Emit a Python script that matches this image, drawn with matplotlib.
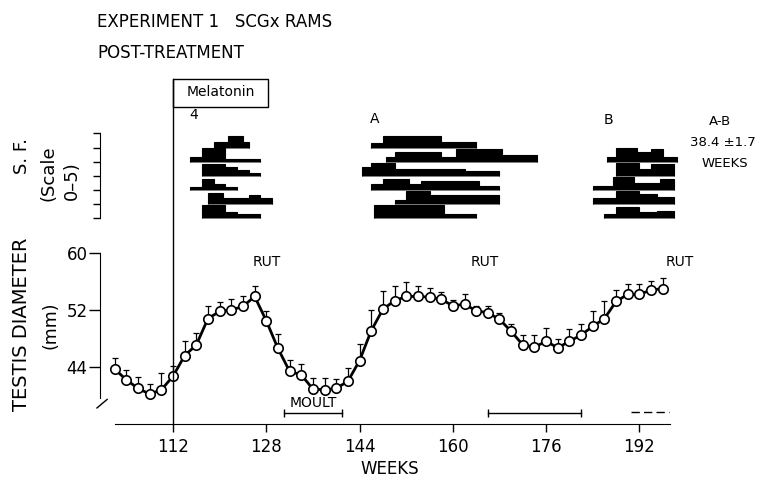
import numpy as np
import matplotlib
matplotlib.use('Agg')
import matplotlib.pyplot as plt
from matplotlib.patches import Rectangle
from matplotlib.lines import Line2D
from matplotlib.transforms import blended_transform_factory

plt.rcParams['font.family'] = ['DejaVu Sans']

# testis diameter (mm), mean + upper SE, every 2 weeks
weeks = np.arange(102, 197, 2)
testis = [43.7, 42.2, 41.0, 40.2, 40.8, 42.7, 45.6, 47.1, 50.8, 51.8, 52.0, 52.5, 53.9,
          50.5, 46.6, 43.4, 42.9, 40.9, 40.8, 41.0, 42.0, 44.9, 49.1, 52.1, 53.3, 53.9,
          53.9, 53.8, 53.5, 52.6, 52.8, 51.9, 51.6, 50.7, 49.0, 47.1, 46.8, 47.6, 46.7,
          47.6, 48.5, 49.7, 50.8, 53.2, 54.2, 54.2, 54.8, 55.0]
testis_se = [1.6, 1.4, 1.6, 1.4, 2.4, 1.5, 2.0, 1.7, 1.7, 1.35, 1.6, 1.5, 1.5,
             1.4, 2.0, 1.6, 1.5, 1.5, 1.7, 1.3, 1.9, 2.3, 2.9, 2.5, 2.1, 2.0,
             1.5, 1.35, 1.0, 0.85, 1.4, 0.7, 0.95, 0.85, 1.1, 1.4, 1.7, 1.9, 1.2,
             1.7, 1.6, 2.2, 2.5, 1.6, 1.45, 1.4, 1.25, 1.5]

# sexual flush profiles (score 0-5), one row per ram: week edges + scores
sf4_rows = [0, 1, 2, 3, 4, 5]
sf4_edges = [[119, 121.5, 124, 125],
             [115, 117, 121, 127],
             [117, 121, 123, 125, 127],
             [115, 117, 119, 121, 123],
             [118, 120.5, 125, 127, 129],
             [117, 121, 123, 127]]
sf4_scores = [[2, 4, 2],
              [1.5, 5, 1],
              [4, 3, 2, 1],
              [1, 4, 2, 1],
              [4, 2, 3, 2],
              [4.5, 2, 1.5]]

sfA_rows = [0, 1, 2, 3, 4, 5]
sfA_edges = [[146, 148, 158, 164],
             [148.5, 150, 158, 160.5, 168.5, 174.5],
             [144.5, 146, 150, 162, 168],
             [146, 148, 152.5, 154.5, 164.5, 168],
             [150, 152, 156, 168],
             [146.5, 158.5, 164]]
sfA_scores = [[1.5, 4, 2],
              [1.5, 3.5, 1.5, 4.5, 2.5],
              [3, 4.5, 2.5, 1.5],
              [2, 4, 2, 3, 1.5],
              [1.5, 4.5, 3],
              [4.5, 1.5]]

sfB_rows = [1, 2, 3, 4, 5]
sfB_edges = [[186.5, 188, 191.5, 194, 196, 198.5],
             [188, 192, 194, 198],
             [184, 187.5, 191, 195.5, 198],
             [184, 188, 192, 195, 198],
             [186, 188, 192, 195, 198]]
sfB_scores = [[1.5, 5, 3.5, 4.5, 1.5],
              [4.5, 2.5, 4],
              [1.5, 4.5, 2.5, 4],
              [2, 4.5, 3.5, 2.5],
              [1.5, 4, 2, 2.5]]

moult_periods = [(131, 141), (166, 182)]
moult_partial = (190.5, 197)
rut_weeks = [128, 165.5, 199]
melatonin_start = 112
melatonin_end = 128.3
ROW_GAP = 5.0

fig = plt.figure(figsize=(7.6, 4.8), dpi=100)
ax = fig.add_axes([0.13158, 0.11667, 0.76316, 0.38594])
ax_sf = fig.add_axes([0.13158, 0.54, 0.76316, 0.19375])

# --- testis diameter panel
ax.errorbar(weeks, testis, yerr=[np.zeros(len(testis_se)), testis_se], fmt='none',
            ecolor='black', elinewidth=0.9, capsize=2.5, capthick=0.9, zorder=1)
ax.plot(weeks, testis, '-', color='black', lw=2.0, marker='o', ms=6.8,
        mfc='white', mec='black', mew=1.2, zorder=3)

ax.set_xlim(99.48, 198.96)
ax.set_ylim(36, 62)
ax.set_xticks([112, 128, 144, 160, 176, 192])
ax.set_yticks([44, 52, 60])
for s in ['top', 'right']:
    ax.spines[s].set_visible(False)
ax.spines['bottom'].set_bounds(102, 197.3)
ax.spines['left'].set_bounds(39.6, 60)
ax.tick_params(axis='x', direction='out', length=6, width=1, labelsize=12, pad=4)
ax.tick_params(axis='y', direction='out', length=8, width=1, labelsize=12, pad=1)
ax.set_xlabel('WEEKS', fontsize=12, labelpad=3)
# axis break mark
ax.plot([100.7, 98.96], [39.45, 38.25], color='black', lw=1, clip_on=False)

for w in rut_weeks:
    ax.text(w, 58.7, 'RUT', ha='center', va='center', fontsize=10)

for a, b in moult_periods:
    ax.plot([a, b], [37.55, 37.55], color='black', lw=1)
    ax.plot([a, b], [37.55, 37.55], ls='none', marker='|', ms=6, mew=1, color='black')
ax.plot(moult_partial, [37.7, 37.7], color='black', lw=1, ls=(0, (6, 3)))
ax.text(np.mean(moult_periods[0]), 38.95, 'MOULT', ha='center', va='center', fontsize=10)

# --- sexual flush panel
ax_sf.set_xlim(ax.get_xlim())
ax_sf.set_ylim(-1, 32)
for rows, edges, scores in [(sf4_rows, sf4_edges, sf4_scores),
                            (sfA_rows, sfA_edges, sfA_scores),
                            (sfB_rows, sfB_edges, sfB_scores)]:
    for r, e, s in zip(rows, edges, scores):
        base = (5 - r) * ROW_GAP
        ax_sf.stairs(base + np.array(s), e, baseline=base, fill=True,
                     facecolor='black', edgecolor='black', lw=0.8)
for s in ['top', 'right', 'bottom']:
    ax_sf.spines[s].set_visible(False)
ax_sf.spines['left'].set_bounds(0, 6 * ROW_GAP)
ax_sf.set_xticks([])
ax_sf.set_yticks(np.arange(7) * ROW_GAP)
ax_sf.set_yticklabels([])
ax_sf.tick_params(axis='y', direction='out', length=5, width=1)

# --- melatonin box and line
trans = blended_transform_factory(ax.transData, fig.transFigure)
fig.add_artist(Line2D([melatonin_start, melatonin_start], [0.11667, 0.8354],
                      transform=trans, color='black', lw=1))
fig.add_artist(Rectangle((melatonin_start, 0.7777), melatonin_end - melatonin_start, 0.0577,
                         transform=trans, fill=False, lw=1, ec='black'))
fig.text((melatonin_start + melatonin_end) / 2, 0.8083, 'Melatonin', transform=trans,
         ha='center', va='center', fontsize=10)
fig.text(115.5, 0.7604, '4', transform=trans, ha='center', va='center', fontsize=10)
fig.text(146.5, 0.752, 'A', transform=trans, ha='center', va='center', fontsize=10)
fig.text(186.6, 0.75, 'B', transform=trans, ha='center', va='center', fontsize=10)

fig.text(0.947, 0.746, 'A-B', ha='center', va='center', fontsize=9.5)
fig.text(0.951, 0.704, '38.4 \u00b11.7', ha='center', va='center', fontsize=9.5)
fig.text(0.954, 0.660, 'WEEKS', ha='center', va='center', fontsize=9.5)

# titles and axis labels
fig.text(0.1276, 0.954, 'EXPERIMENT 1   SCGx RAMS', ha='left', va='center', fontsize=12)
fig.text(0.1276, 0.8896, 'POST-TREATMENT', ha='left', va='center', fontsize=12)
fig.text(0.0289, 0.675, 'S. F.', rotation=90, ha='center', va='center', fontsize=13)
fig.text(0.0632, 0.639, '(Scale', rotation=90, ha='center', va='center', fontsize=13)
fig.text(0.0947, 0.623, '0\u20135)', rotation=90, ha='center', va='center', fontsize=13)
fig.text(0.0289, 0.325, 'TESTIS DIAMETER', rotation=90, ha='center', va='center', fontsize=14)
fig.text(0.0658, 0.323, '(mm)', rotation=90, ha='center', va='center', fontsize=12.5)

fig.savefig('out.png', dpi=100)
